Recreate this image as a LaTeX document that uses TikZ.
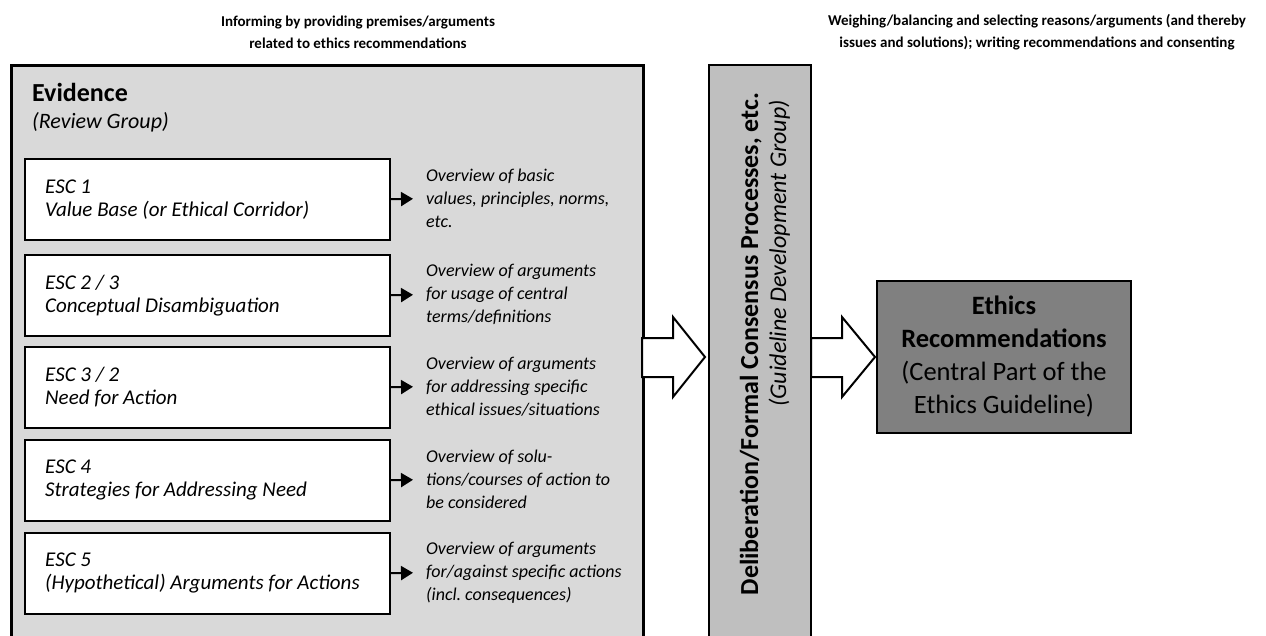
\documentclass[tikz,border=0pt]{standalone}
\usepackage{fontspec}
\setmainfont{Carlito}
\usetikzlibrary{arrows.meta}
\definecolor{evid}{RGB}{217,217,217}
\definecolor{delib}{RGB}{191,191,191}
\definecolor{ethic}{RGB}{128,128,128}
\frenchspacing
\tikzset{
  headtext/.style={align=center, font=\fontsize{15}{22}\selectfont\bfseries, inner sep=0pt},
  escbox/.style={draw, fill=white, line width=1.5pt, minimum width=365pt, minimum height=81pt,
    inner sep=0pt, anchor=north west},
  esctext/.style={anchor=west, align=left, inner sep=0pt, font=\fontsize{21}{23}\selectfont\itshape},
  desctext/.style={anchor=west, align=left, inner sep=0pt, font=\fontsize{18}{23}\selectfont\itshape},
  smallarrow/.style={line width=2pt, -{Triangle[length=12pt,width=14pt]}, shorten >=13pt},
  bigarrow/.style={draw, fill=white, line width=2pt, line join=miter},
}
\begin{document}
\frenchspacing
\begin{tikzpicture}[x=1pt,y=-1pt]
\useasboundingbox (0,0) rectangle (1266,635);
\clip (0,0) rectangle (1266,635);
% headings
\node[headtext] (h1) at (358,32) {Informing by providing premises/arguments\\related to ethics recommendations};
\node[headtext] (h2) at (1037,32) {Weighing/balancing and selecting reasons/arguments (and thereby\\issues and solutions); writing recommendations and consenting};
% evidence box
\node[draw, fill=evid, line width=2.5pt, minimum width=632pt, minimum height=640pt, anchor=north west, inner sep=0pt] (ev) at (10,64) {};
\node[anchor=base west, inner sep=0pt, font=\fontsize{26}{30}\selectfont\bfseries] (evt) at (32,101) {Evidence};
\node[anchor=base west, inner sep=0pt, font=\fontsize{22}{26}\selectfont\itshape] (evs) at (32,128) {(Review Group)};
% ESC boxes
\node[escbox] (e1) at (24,158) {};
\node[escbox] (e2) at (24,254) {};
\node[escbox] (e3) at (24,346) {};
\node[escbox] (e4) at (24,439) {};
\node[escbox] (e5) at (24,532) {};
\node[esctext] (t1) at ([xshift=21pt]e1.west) {ESC 1\\Value Base (or Ethical Corridor)};
\node[esctext] (t2) at ([xshift=21pt]e2.west) {ESC 2 / 3\\Conceptual Disambiguation};
\node[esctext] (t3) at ([xshift=21pt]e3.west) {ESC 3 / 2\\Need for Action};
\node[esctext] (t4) at ([xshift=21pt]e4.west) {ESC 4\\Strategies for Addressing Need};
\node[esctext] (t5) at ([xshift=21pt]e5.west) {ESC 5\\(Hypothetical) Arguments for Actions};
% descriptions
\node[desctext] (d1) at (426,198.5) {Overview of basic\\values, principles, norms,\\etc.};
\node[desctext] (d2) at (426,294.5) {Overview of arguments\\for usage of central\\terms/definitions};
\node[desctext] (d3) at (426,386.5) {Overview of arguments\\for addressing specific\\ethical issues/situations};
\node[desctext] (d4) at (426,479.5) {Overview of solu-\\tions/courses of action to\\be considered};
\node[desctext] (d5) at (426,572.5) {Overview of arguments\\for/against specific actions\\(incl. consequences)};
\foreach \i in {1,...,5} {
  \draw[smallarrow] (e\i.east) -- (d\i.west);
}
% deliberation box
\node[draw, fill=delib, line width=2pt, minimum width=102pt, minimum height=640pt, anchor=north west, inner sep=0pt] (dl) at (708,64) {};
\node[rotate=90, anchor=base, inner sep=0pt, font=\fontsize{26}{31}\selectfont\bfseries] (dlt) at (758,344)
  {Deliberation/Formal Consensus Processes, etc.};
\node[rotate=90, anchor=base east, inner sep=0pt, font=\fontsize{24}{28}\selectfont\itshape] (dls) at (786,100)
  {(Guideline Development Group)};
% ethics recommendations
\node[draw, fill=ethic, line width=2pt, minimum width=254pt, minimum height=152pt, inner sep=0pt, align=center,
  font=\fontsize{26.5}{33}\selectfont] (er) at (1004,357)
  {\textbf{Ethics}\\\textbf{Recommendations}\\(Central Part of the\\Ethics Guideline)};
% big arrows
\path[bigarrow] (642,338) -- (673,338) -- (673,317) -- (705,357) -- (673,397) -- (673,377) -- (642,377) -- cycle;
\path[bigarrow] (811,338) -- (842,338) -- (842,317) -- (875,357) -- (842,397) -- (842,377) -- (811,377) -- cycle;
\end{tikzpicture}
\end{document}
